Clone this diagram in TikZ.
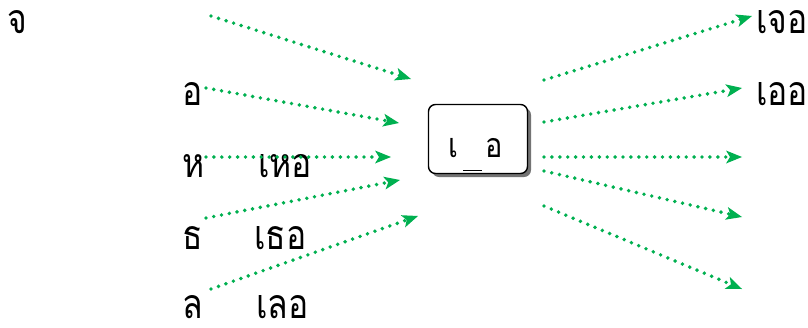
\documentclass[tikz,border=0pt]{standalone}
\usepackage{fontspec}
\newfontfamily\thaifont[Script=Thai,FakeStretch=0.82]{Loma}
\newfontfamily\thaiboxfont[Script=Thai,FakeStretch=0.85]{Loma}
\usetikzlibrary{arrows.meta,shadows}
\definecolor{arrgreen}{RGB}{0,176,80}
\tikzset{
  thai/.style={font=\thaifont\fontsize{41}{46}\selectfont, inner sep=0pt, text depth=0pt, anchor=base west},
  boxtxt/.style={font=\thaiboxfont\fontsize{34}{40}\selectfont, inner sep=0pt, text depth=0pt, anchor=base west},
  conn/.style={draw=arrgreen, line width=3.9pt, line cap=round, dash pattern=on 0pt off 7.9pt,
    -{Stealth[length=16pt,width=13pt,inset=4pt,fill=arrgreen,line width=0pt]}},
  boxst/.style={draw=black, line width=1.4pt, rounded corners=7pt, fill=white,
    minimum width=99pt, minimum height=69pt, inner sep=0pt,
    drop shadow={shadow xshift=3.5pt, shadow yshift=-3.5pt, fill=black!55, opacity=1}}
}
\begin{document}
\begin{tikzpicture}[x=1pt,y=-1pt]
\useasboundingbox (0,0) rectangle (808,327);
% left column
\node[thai] (jo) at (7,33) {จ};
\node[thai] (o) at (182,105) {อ};
\node[thai] (h) at (182,177) {ห};
\node[thai] (heo) at (258,177) {เหอ};
\node[thai] (th) at (182,249) {ธ};
\node[thai] (theo) at (254,249) {เธอ};
\node[thai] (l) at (182,318) {ล};
\node[thai] (leo) at (256,318) {เลอ};
% right
\node[thai] (jeo) at (756,33) {เจอ};
\node[thai] (oeo) at (756,105) {เออ};
% box
\node[boxst] (box) at (478,139) {};
\node[boxtxt] (sara) at (448,157) {เ};
\node[boxtxt] (oang) at (485,157) {อ};
\coordinate (ul1) at (463,170.5);
\coordinate (ul2) at (482,170.5);
\draw[line width=1.6pt] (ul1) -- (ul2);
% left arrow coordinates
\coordinate (a1s) at (211,16);  \coordinate (a1e) at (411,79);
\coordinate (a2s) at (206,88);  \coordinate (a2e) at (399,123);
\coordinate (a3s) at (206,157); \coordinate (a3e) at (391,157);
\coordinate (a4s) at (206,218); \coordinate (a4e) at (400,180);
\coordinate (a5s) at (211,289); \coordinate (a5e) at (418,216);
\draw[conn] (a1s) -- (a1e);
\draw[conn] (a2s) -- (a2e);
\draw[conn] (a3s) -- (a3e);
\draw[conn] (a4s) -- (a4e);
\draw[conn] (a5s) -- (a5e);
% right arrows
\coordinate (b1s) at (544,80);  \coordinate (b1e) at (752,16);
\coordinate (b2s) at (544,122); \coordinate (b2e) at (742,88);
\coordinate (b3s) at (544,157); \coordinate (b3e) at (742,157);
\coordinate (b4s) at (544,171); \coordinate (b4e) at (742,217);
\coordinate (b5s) at (544,206); \coordinate (b5e) at (742,289);
\draw[conn] (b1s) -- (b1e);
\draw[conn] (b2s) -- (b2e);
\draw[conn] (b3s) -- (b3e);
\draw[conn] (b4s) -- (b4e);
\draw[conn] (b5s) -- (b5e);
\end{tikzpicture}
\end{document}
